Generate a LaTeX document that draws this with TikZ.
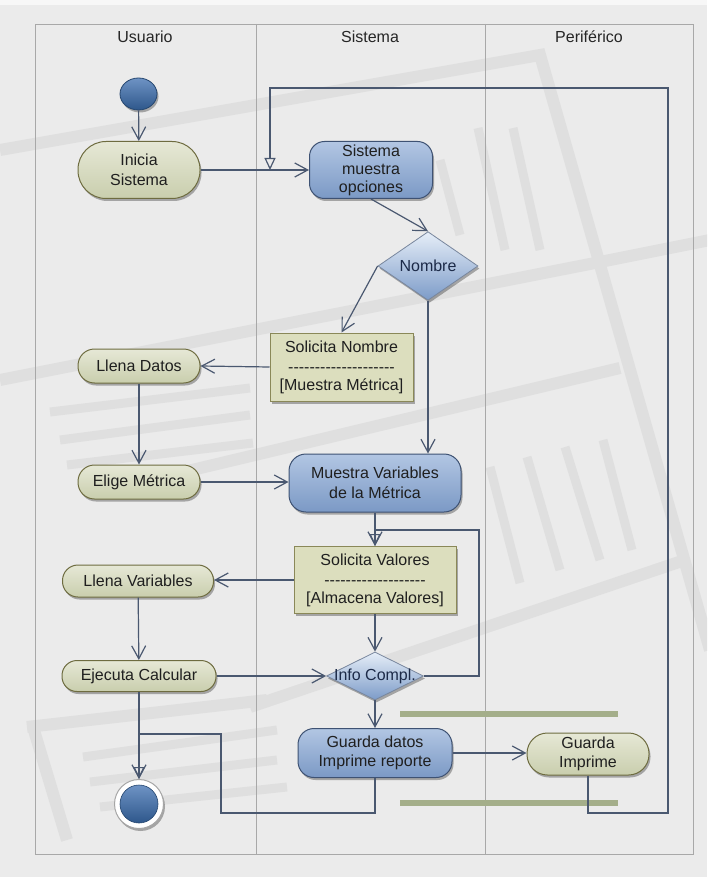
\documentclass[tikz,border=0pt]{standalone}
\usepackage{fontspec}
\setmainfont{Liberation Sans}
\usetikzlibrary{arrows.meta,shapes.geometric,shadows}
\definecolor{bg}{HTML}{EBEBEB}
\definecolor{wm}{HTML}{DFDFDF}
\definecolor{frame}{HTML}{A8A8A8}
\definecolor{conn}{HTML}{4A5870}
\definecolor{gtop}{HTML}{E6E8D6}
\definecolor{gbot}{HTML}{C9CEAD}
\definecolor{gbord}{HTML}{6E6C40}
\definecolor{btop}{HTML}{B2C6E3}
\definecolor{bbot}{HTML}{7B99C5}
\definecolor{bbord}{HTML}{3E5273}
\definecolor{boxfill}{HTML}{DCDEBE}
\definecolor{boxbord}{HTML}{8A8858}
\definecolor{dtop}{HTML}{E6EEF8}
\definecolor{dbot}{HTML}{7C9BC8}
\definecolor{dtext}{HTML}{1C2A48}
\definecolor{barc}{HTML}{A4AE8A}
\definecolor{stop}{HTML}{6E93C4}
\definecolor{sbot}{HTML}{2E578B}
\newcommand\hyf{-\kern0pt}
\newcommand\hyften{\hyf\hyf\hyf\hyf\hyf\hyf\hyf\hyf\hyf\hyf}
\tikzset{
  every node/.style={font=\fontsize{16}{20}\selectfont, text=black!88},
  shd/.style={drop shadow={shadow xshift=1.5pt, shadow yshift=-2.5pt, opacity=0.3, fill=black}},
  gact/.style={draw=gbord, line width=1pt, top color=gtop, bottom color=gbot, align=center, inner sep=0pt, shd},
  bact/.style={draw=bbord, line width=1pt, top color=btop, bottom color=bbot, align=center, inner sep=0pt, shd},
  sbox/.style={draw=boxbord, line width=1pt, fill=boxfill, align=center, inner sep=0pt, shd},
  dec/.style={diamond, draw=bbord!70, line width=0.8pt, top color=dtop, bottom color=dbot, inner sep=0pt, shd},
  flow/.style={draw=conn, line width=1.2pt, -{Straight Barb[length=13pt,width=14pt]}},
  merge/.style={draw=conn, line width=1.2pt, -{Triangle[open,length=12pt,width=11pt]}},
  wmk/.style={draw=wm, line width=12pt},
  wmb/.style={draw=wm, line width=9pt},
  lane/.style={draw=frame, line width=0.8pt},
  hdr/.style={font=\fontsize{16}{20}\selectfont, text=black!85},
  barline/.style={draw=barc, line width=6pt},
}
\begin{document}
\begin{tikzpicture}[x=1pt,y=-1pt]
\useasboundingbox (0,0) rectangle (707,877);
\fill[bg] (0,0) rectangle (707,877);
\fill[white!60!bg] (0,0) rectangle (707,5);
% watermark
\begin{scope}
\clip (0,5) rectangle (707,877);
\draw[wmk] (0,150) -- (540,55) -- (710,650);
\draw[wmk] (0,380) -- (600,262) -- (710,240);
\draw[wmk] (150,480) -- (620,368);
\draw[wmk] (250,707) -- (685,560);
\draw[wmb] (440,160) -- (460,235);
\draw[wmb] (478,128) -- (505,250);
\draw[wmb] (513,128) -- (540,250);
\draw[wmb] (490,467) -- (520,583);
\draw[wmb] (527,457) -- (560,570);
\draw[wmb] (565,447) -- (600,560);
\draw[wmb] (603,440) -- (632,550);
\draw[wmb] (50,412) -- (250,388);
\draw[wmb] (60,440) -- (250,415);
\draw[wmb] (67,465) -- (253,443);
\draw[wmk] (27,727) -- (267,700);
\draw[wmk] (33,727) -- (67,840);
\draw[wmb] (83,757) -- (277,730);
\draw[wmb] (90,782) -- (277,760);
\draw[wmb] (100,807) -- (287,787);
\end{scope}
% swimlanes
\draw[lane] (35,24) rectangle (693,854);
\draw[lane] (256,24) -- (256,854);
\draw[lane] (485,24) -- (485,854);
\node[hdr] (hU) at (145,37) {Usuario};
\node[hdr] (hS) at (370,37) {Sistema};
\node[hdr] (hP) at (589,37) {Periférico};
% fork/join bars
\coordinate (b1l) at (400,714); \coordinate (b1r) at (618,714);
\coordinate (b2l) at (400,803); \coordinate (b2r) at (618,803);
\draw[barline] (b1l) -- (b1r);
\draw[barline] (b2l) -- (b2r);
% nodes
\node[ellipse, draw=sbot!80!black, line width=0.8pt, top color=stop, bottom color=sbot, minimum width=37pt, minimum height=32pt, inner sep=0pt, shd] (st) at (138.5,94) {};
\node[gact, rounded corners=28pt, minimum width=122pt, minimum height=57pt] (ini) at (139,170) {Inicia\\Sistema};
\node[bact, rounded corners=15pt, minimum width=123pt, minimum height=57pt, font=\fontsize{16}{18}\selectfont] (sis) at (371,170) {Sistema\\muestra\\opciones};
\node[dec, minimum width=100pt, minimum height=56pt, text=dtext] (nom) at (428,266) {Nombre};
\node[sbox, minimum width=143pt, minimum height=68pt] (solN) at (341.5,367) {Solicita Nombre\\\hyften\hyften\\[-2pt][Muestra Métrica]};
\node[gact, rounded corners=16.5pt, minimum width=122pt, minimum height=34pt] (ld) at (139,366) {Llena Datos};
\node[gact, rounded corners=16.5pt, minimum width=122pt, minimum height=34pt] (em) at (139,482) {Elige Métrica};
\node[bact, rounded corners=17pt, minimum width=172pt, minimum height=58pt] (mv) at (375,483) {Muestra Variables\\de la Métrica};
\node[sbox, minimum width=162pt, minimum height=67pt] (solV) at (375,580) {Solicita Valores\\\hyften\hyf\hyf\hyf\hyf\hyf\hyf\hyf\hyf\hyf\\[-2pt][Almacena Valores]};
\node[gact, rounded corners=15.5pt, minimum width=151pt, minimum height=32pt] (lv) at (138,581) {Llena Variables};
\node[gact, rounded corners=15pt, minimum width=154pt, minimum height=31pt] (ec) at (139,676) {Ejecuta Calcular};
\node[dec, minimum width=97pt, minimum height=48pt, label={[text=dtext]center:Info Compl.}] (info) at (375,676) {};
\node[bact, rounded corners=16pt, minimum width=154pt, minimum height=49pt, font=\fontsize{16}{19}\selectfont] (gd) at (375,753) {Guarda datos\\Imprime reporte};
\node[gact, rounded corners=20.5pt, minimum width=122pt, minimum height=42pt, font=\fontsize{16}{19}\selectfont] (gi) at (588,754) {Guarda\\Imprime};
\node[circle, draw=black!35, line width=1pt, fill=white, minimum size=49pt, inner sep=0pt, shd] (fin) at (139,804) {};
\shade[top color=stop, bottom color=sbot, draw=sbot!80!black, line width=0.6pt] (fin.center) circle (19pt);
% connectors
\coordinate (m1) at (270,170);
\coordinate (c2) at (668,88);
\coordinate (c3) at (668,813);
\coordinate (c1) at (479,530);
\coordinate (c4) at (221,813);
\coordinate (c5) at (139,734);
\draw[flow] (st) -- (ini);
\draw[flow] (ini) -- (sis);
\draw[merge] (gi.south) |- (c3) -- (c2) -| (m1);
\draw[flow] (sis.south) -- (nom.north);
\draw[flow] (nom.west) -- (solN.north);
\draw[flow] (nom.south) -- (nom.south |- mv.north);
\draw[flow] (solN.west) -- (ld.east);
\draw[flow] (ld) -- (em);
\draw[flow] (em.east) -- (em.east -| mv.west);
\draw[flow] (mv) -- (solV);
\draw[merge] (info.east) -| (c1) -| (solV.north);
\draw[flow] (solV.west) -- (solV.west -| lv.east);
\draw[flow] (lv) -- (ec);
\draw[flow] (ec.east) -- (info.west);
\draw[flow] (solV) -- (info);
\draw[flow] (info) -- (gd);
\draw[flow] (gd.east) -- (gd.east -| gi.west);
\draw[flow] (ec.south) -- (fin.north);
\draw[merge] (gd.south) |- (c4) |- (c5) -- (fin.north);
\end{tikzpicture}
\end{document}
